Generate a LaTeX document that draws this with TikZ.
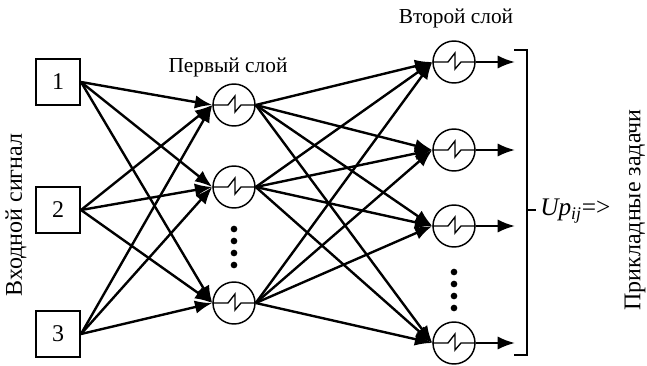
\documentclass[tikz,border=0pt]{standalone}
\usepackage{fontspec}
\setmainfont{Liberation Serif}
\usetikzlibrary{calc,arrows.meta}
\begin{document}
\begin{tikzpicture}[x=0.75pt,y=-0.75pt,
  inbox/.style={draw,line width=1.5pt,minimum width=33pt,minimum height=34pt,inner sep=0pt,font=\fontsize{18}{20}\selectfont},
  neuron/.style={draw,circle,line width=1.1pt,minimum size=31.5pt,inner sep=0pt},
  conn/.style={line width=1.8pt,-{Latex[length=13pt,width=10pt]}},
  sig/.style={line width=1pt,line join=miter},
  lbl/.style={font=\fontsize{16}{18}\selectfont},
  side/.style={font=\fontsize{18}{20}\selectfont,rotate=90},
  dot/.style={fill,circle,inner sep=0pt,minimum size=5pt}]
\useasboundingbox (0,0) rectangle (647,365);
% inputs
\node[inbox] (i1) at (58,82) {1};
\node[inbox] (i2) at (58,210) {2};
\node[inbox] (i3) at (58,334) {3};
% first layer
\node[neuron] (h1) at (234,105) {};
\node[neuron] (h2) at (234,187) {};
\node[neuron] (h3) at (234,303) {};
% second layer
\node[neuron] (o1) at (454,62) {};
\node[neuron] (o2) at (454,150) {};
\node[neuron] (o3) at (454,226) {};
\node[neuron] (o4) at (454,343) {};
% signal glyphs
\foreach \n in {h1,h2,h3,o1,o2,o3,o4}
  \draw[sig] (\n.west) -- ($(\n.center)+(-6,0)$) -- ++(7,-9) -- ++(0,16) -- ++(6,-7) -- (\n.east);
% connections input -> first
\foreach \a in {i1,i2,i3}
  \foreach \b in {h1,h2,h3}
    \draw[conn] (\a.east) -- (\b.west);
% first -> second
\foreach \a in {h1,h2,h3}
  \foreach \b in {o1,o2,o3,o4}
    \draw[conn] (\a.east) -- (\b.west);
% outputs
\foreach \n in {o1,o2,o3,o4} {
  \coordinate (e\n) at (515,0 |- \n.east);
  \draw[conn] (\n.east) -- (e\n);
}
% dots
\foreach \y in {229,241,253,265} \node[dot] (dh\y) at (234,\y) {};
\foreach \y in {272,284,296,308} \node[dot] (do\y) at (454,\y) {};
% bracket
\coordinate (bt1) at (514,50);
\coordinate (bt2) at (527,50);
\coordinate (bb2) at (527,355);
\coordinate (bb1) at (514,355);
\coordinate (bm) at (527,210);
\coordinate (bm2) at (536,210);
\draw[line width=1.2pt] (bt1) -- (bt2) -- (bb2) -- (bb1);
\draw[line width=1.2pt] (bm) -- (bm2);
% labels
\node[lbl] (l1) at (228,67) {Первый слой};
\node[lbl] (l2) at (456,18) {Второй слой};
\node[side] (ls) at (16,215) {Входной сигнал};
\node[side] (rs) at (635,210) {Прикладные задачи};
\node[font=\fontsize{19}{21}\selectfont,anchor=west,inner sep=0pt] (up) at (540,211) {\textit{Up}\textsubscript{\textit{ij}}=>};
\end{tikzpicture}
\end{document}
